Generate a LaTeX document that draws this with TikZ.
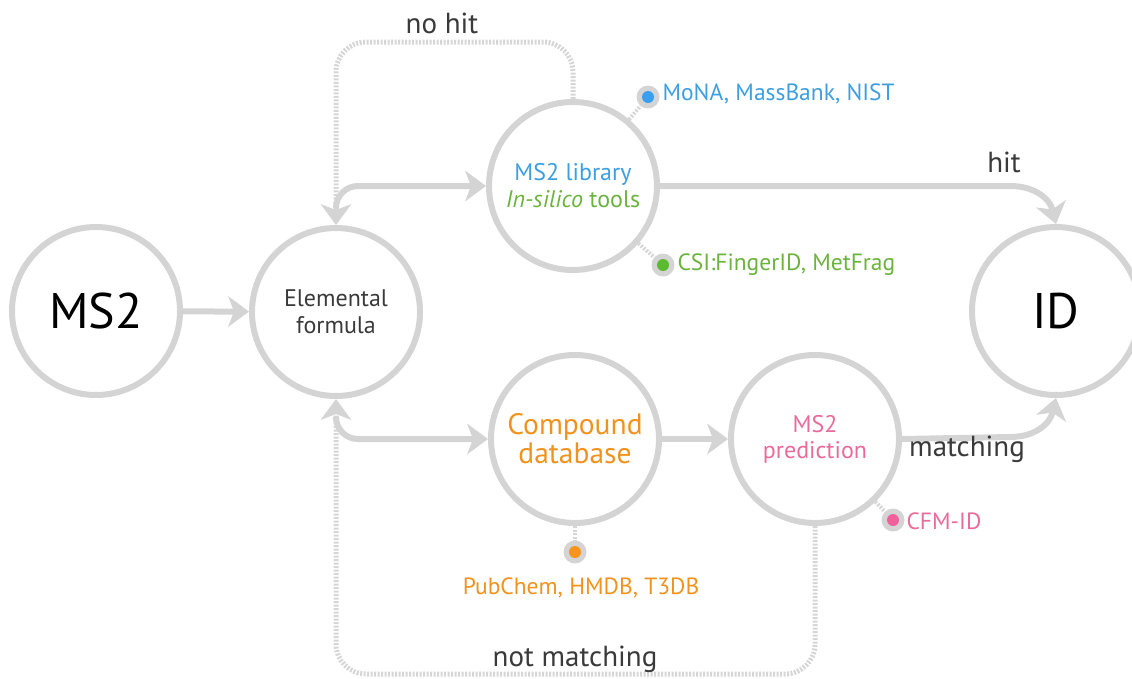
\documentclass[tikz,border=0pt]{standalone}
\usepackage{fontspec}
\setmainfont{PT Sans}
\usetikzlibrary{arrows.meta}
\definecolor{cgray}{HTML}{D4D4D4}
\definecolor{dgray}{HTML}{D6D6D6}
\definecolor{tdark}{HTML}{3A3A3A}
\definecolor{cblue}{HTML}{3D9FE0}
\definecolor{cgreen}{HTML}{6CB33E}
\definecolor{corange}{HTML}{F0931E}
\definecolor{cpink}{HTML}{E86B9C}
\definecolor{dblue}{HTML}{3A9FF0}
\definecolor{dgreen}{HTML}{5BBB2E}
\definecolor{dorange}{HTML}{F7941D}
\definecolor{dpink}{HTML}{F0609A}
\begin{document}
\begin{tikzpicture}[x=1pt,y=-1pt,
  bub/.style={circle,draw=cgray,line width=6pt,minimum size=168pt,inner sep=0pt,align=center},
  tipst/.style={-{Stealth[length=21pt,width=31pt,inset=6pt,line width=0pt,color=cgray]}},
  flow/.style={draw=cgray,line width=6pt,tipst},
  loopl/.style={draw=dgray,line width=5pt,dash pattern=on 2pt off 1.5pt,rounded corners=30pt,tipst},
  dotl/.style={draw=dgray,line width=4pt,dash pattern=on 2pt off 1.5pt},
  ring/.style={circle,fill=cgray,minimum size=23pt,inner sep=0pt,
    path picture={\fill[#1] (path picture bounding box.center) circle (6pt);}},
  lab/.style={text=tdark,font=\fontsize{29}{32}\selectfont},
  src/.style={anchor=west,font=\fontsize{23.5}{27}\selectfont}
]
\useasboundingbox (0,0) rectangle (1132,678);

% bubbles
\node[bub,font=\fontsize{50}{54}\selectfont] (ms2) at (96,311) {MS2};
\node[bub,text=tdark,font=\fontsize{24}{27}\selectfont] (ef) at (336,312) {Elemental\\formula};
\node[bub,font=\fontsize{24}{27}\selectfont] (lib) at (573,186) {\textcolor{cblue}{MS2 library}\\\textcolor{cgreen}{\textit{In-silico} tools}};
\node[bub,text=corange,font=\fontsize{29.5}{29}\selectfont] (cdb) at (575,439) {Compound\\database};
\node[bub,text=cpink,font=\fontsize{24}{26}\selectfont] (pred) at (815,439) {MS2\\prediction};
\node[bub,font=\fontsize{50}{54}\selectfont] (id) at (1056,311) {ID};

% source dots
\node[ring=dblue] (mona) at (648,97) {};
\node[ring=dgreen] (csi) at (663,265) {};
\node[ring=dorange] (pub) at (575,552) {};
\node[ring=dpink] (cfm) at (893,520) {};
\node[src,text=cblue] (monat) at (659,94) {MoNA, MassBank, NIST};
\node[src,text=cgreen] (csit) at (674,265) {CSI:FingerID, MetFrag};
\node[text=corange,font=\fontsize{23.5}{27}\selectfont] (pubt) at (581,588) {PubChem, HMDB, T3DB};
\node[src,text=cpink] (cfmt) at (903,521) {CFM-ID};
\draw[dotl] (lib) -- (mona);
\draw[dotl] (lib) -- (csi);
\draw[dotl] (cdb) -- (pub);
\draw[dotl] (pred) -- (cfm);

% coordinates
\coordinate (efTop) at (336,205);
\coordinate (efBot) at (336,419);
\coordinate (hitA) at (1010,186);
\coordinate (hitB) at (1036,186);
\coordinate (hitC) at (1050,200);
\coordinate (matA) at (1010,437);
\coordinate (matB) at (1036,437);
\coordinate (matC) at (1050,423);
\coordinate (nh) at (450,42);
\coordinate (nm) at (575,674);

% loops
\draw[loopl] (lib.north) |- (nh) -| (ef.north);
\draw[loopl] (pred.south) |- (nm) -| (ef.south);

% flows
\draw[flow] (ms2) -- (ef);
\draw[flow,rounded corners=22pt] (efTop) |- (lib.west);
\draw[flow,rounded corners=22pt] (efBot) |- (cdb.west);
\draw[flow] (cdb) -- (pred);
\draw[flow] (lib.east) -- (hitA) .. controls (hitB) and (hitC) .. (id.north);
\draw[flow] (pred.east) -- (matA) .. controls (matB) and (matC) .. (id.south);

% labels
\node[lab] (nohit) at (442,23) {no hit};
\node[lab] (hit) at (1004,162) {hit};
\node[lab] (matching) at (967,449) {matching};
\node[lab] (notmatching) at (575,659) {not matching};
\end{tikzpicture}
\end{document}
